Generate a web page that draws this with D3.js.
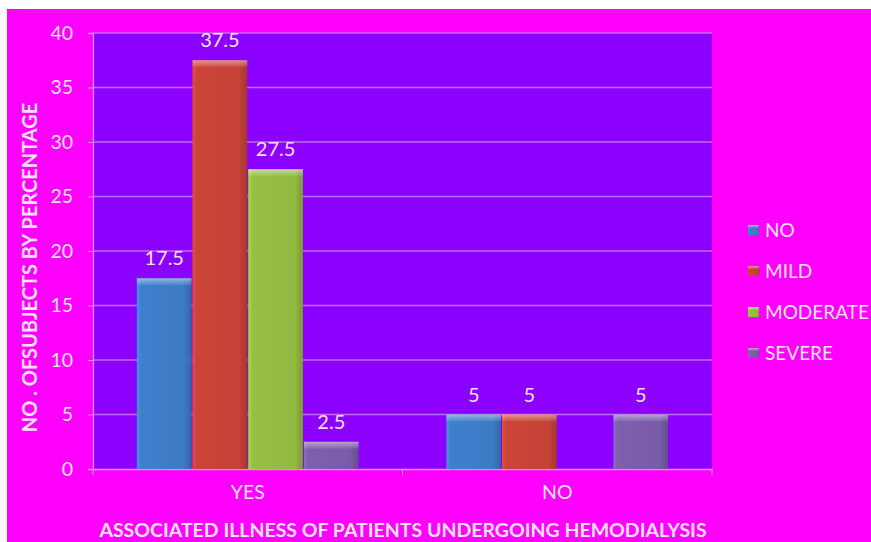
<!DOCTYPE html>
<html>
<head>
<meta charset="utf-8">
<script src="https://cdn.jsdelivr.net/npm/d3@7"></script>
<style>
  html, body { margin: 0; padding: 0; background: #ffffff; }
  svg { display: block; }
  text { font-family: Lato, "Open Sans", sans-serif; }
</style>
</head>
<body>
<svg id="chart" width="871" height="542"></svg>
<script>
// Associated illness of patients undergoing hemodialysis, % of subjects by severity
const categories = ["YES", "NO"];
const seriesNames = ["NO", "MILD", "MODERATE", "SEVERE"];
const seriesNo = [17.5, 5];
const seriesMild = [37.5, 5];
const seriesModerate = [27.5, null];
const seriesSevere = [2.5, 5];
const yTicks = [0, 5, 10, 15, 20, 25, 30, 35, 40];
const xTitle = "ASSOCIATED ILLNESS OF PATIENTS UNDERGOING HEMODIALYSIS";
const yTitle = "NO . OFSUBJECTS BY PERCENTAGE";

const seriesValues = [seriesNo, seriesMild, seriesModerate, seriesSevere];
const colors = ["#3f7fcc", "#cc4438", "#98c043", "#7d5fae"];

const svg = d3.select("#chart");
const W = 871, H = 542;
const plot = { left: 93, right: 712, top: 33, bottom: 469 };
const textColor = "#fbe3fb";

// page background
svg.append("rect").attr("x", 7).attr("y", 9).attr("width", W - 7).attr("height", H - 9)
  .attr("fill", "#ff00ff");

// plot area
svg.append("rect")
  .attr("x", plot.left).attr("y", plot.top)
  .attr("width", plot.right - plot.left).attr("height", plot.bottom - plot.top)
  .attr("fill", "#8b00ff");

const x0 = d3.scaleBand().domain(categories).range([plot.left, plot.right]).paddingInner(0).paddingOuter(0);
const groupW = x0.bandwidth();
const barW = 55.7;
const x1 = d3.scaleBand().domain(seriesNames)
  .range([groupW / 2 - 2 * barW, groupW / 2 + 2 * barW]).padding(0);
const y = d3.scaleLinear().domain([0, 40]).range([plot.bottom, plot.top]);

// gradients for the bevelled bars
const defs = svg.append("defs");
colors.forEach((c, i) => {
  const g = defs.append("linearGradient").attr("id", "grad" + i)
    .attr("x1", "0").attr("x2", "1").attr("y1", "0").attr("y2", "0");
  const base = d3.color(c);
  g.append("stop").attr("offset", "0").attr("stop-color", base.brighter(0.35));
  g.append("stop").attr("offset", "0.08").attr("stop-color", base);
  g.append("stop").attr("offset", "0.85").attr("stop-color", base.darker(0.1));
  g.append("stop").attr("offset", "1").attr("stop-color", base.darker(0.6));
});
const topGrad = defs.append("linearGradient").attr("id", "topcap")
  .attr("x1", "0").attr("x2", "0").attr("y1", "0").attr("y2", "1");
topGrad.append("stop").attr("offset", "0").attr("stop-color", "#ffffff").attr("stop-opacity", 0.45);
topGrad.append("stop").attr("offset", "1").attr("stop-color", "#ffffff").attr("stop-opacity", 0.05);

// gridlines
svg.append("g").selectAll("line").data(yTicks.filter(t => t > 0)).join("line")
  .attr("x1", plot.left).attr("x2", plot.right)
  .attr("y1", d => y(d)).attr("y2", d => y(d))
  .attr("stroke", "#c26af2").attr("stroke-width", 1.3);

// y axis
const yAxis = svg.append("g").attr("transform", `translate(${plot.left},0)`)
  .call(d3.axisLeft(y).tickValues(yTicks).tickSize(5).tickPadding(15));
yAxis.select(".domain").attr("stroke", "#d58ae8").attr("stroke-width", 1.3);
yAxis.selectAll(".tick line").attr("stroke", "#d58ae8");
yAxis.selectAll(".tick text").attr("fill", textColor).attr("font-size", 19.5)
  .attr("font-family", "Lato, sans-serif");

// x axis
const xAxis = svg.append("g").attr("transform", `translate(0,${plot.bottom})`)
  .call(d3.axisBottom(x0).tickSize(0).tickPadding(16));
xAxis.select(".domain").attr("stroke", "#e08ce8").attr("stroke-width", 1.5);
xAxis.selectAll(".tick text").attr("fill", textColor).attr("font-size", 19.5)
  .attr("font-family", "Lato, sans-serif");
// category separators
svg.append("g").selectAll("line").data(categories.concat(["end"])).join("line")
  .attr("x1", (d, i) => plot.left + i * groupW).attr("x2", (d, i) => plot.left + i * groupW)
  .attr("y1", plot.bottom).attr("y2", plot.bottom + 6)
  .attr("stroke", "#e08ce8");

// bars
const bars = [];
categories.forEach((cat, ci) => {
  seriesNames.forEach((s, si) => {
    const v = seriesValues[si][ci];
    if (v != null) bars.push({ cat, s, si, v });
  });
});
const gBars = svg.append("g");
const barG = gBars.selectAll("g").data(bars).join("g")
  .attr("transform", d => `translate(${x0(d.cat) + x1(d.s)},0)`);
barG.append("rect")
  .attr("x", 0.5).attr("width", barW - 1)
  .attr("y", d => y(d.v)).attr("height", d => y(0) - y(d.v))
  .attr("fill", d => `url(#grad${d.si})`);
barG.append("rect")
  .attr("x", 0.5).attr("width", barW - 1)
  .attr("y", d => y(d.v)).attr("height", 7)
  .attr("fill", "url(#topcap)");

// value labels
barG.append("text")
  .attr("x", barW / 2).attr("y", d => y(d.v) - 13)
  .attr("text-anchor", "middle")
  .attr("fill", textColor).attr("font-size", 20)
  .text(d => d.v);

// axis titles
svg.append("text")
  .attr("x", 403).attr("y", 537)
  .attr("text-anchor", "middle").attr("fill", textColor)
  .attr("font-size", 19.5).attr("font-weight", "bold")
  .text(xTitle);
svg.append("text")
  .attr("transform", `translate(37,${(95 + 440) / 2}) rotate(-90)`)
  .attr("text-anchor", "middle").attr("fill", textColor)
  .attr("font-size", 20).attr("font-weight", "bold")
  .text(yTitle);

// legend
const legend = svg.append("g").selectAll("g").data(seriesNames).join("g")
  .attr("transform", (d, i) => `translate(748,${230 + i * 41})`);
legend.append("rect").attr("x", 0).attr("y", -5).attr("width", 11).attr("height", 10)
  .attr("fill", (d, i) => `url(#grad${i})`);
legend.append("rect").attr("x", 0).attr("y", -5).attr("width", 11).attr("height", 3)
  .attr("fill", "url(#topcap)");
legend.append("text").attr("x", 17).attr("y", 7)
  .attr("fill", textColor).attr("font-size", 19)
  .text(d => d);
</script>
</body>
</html>
